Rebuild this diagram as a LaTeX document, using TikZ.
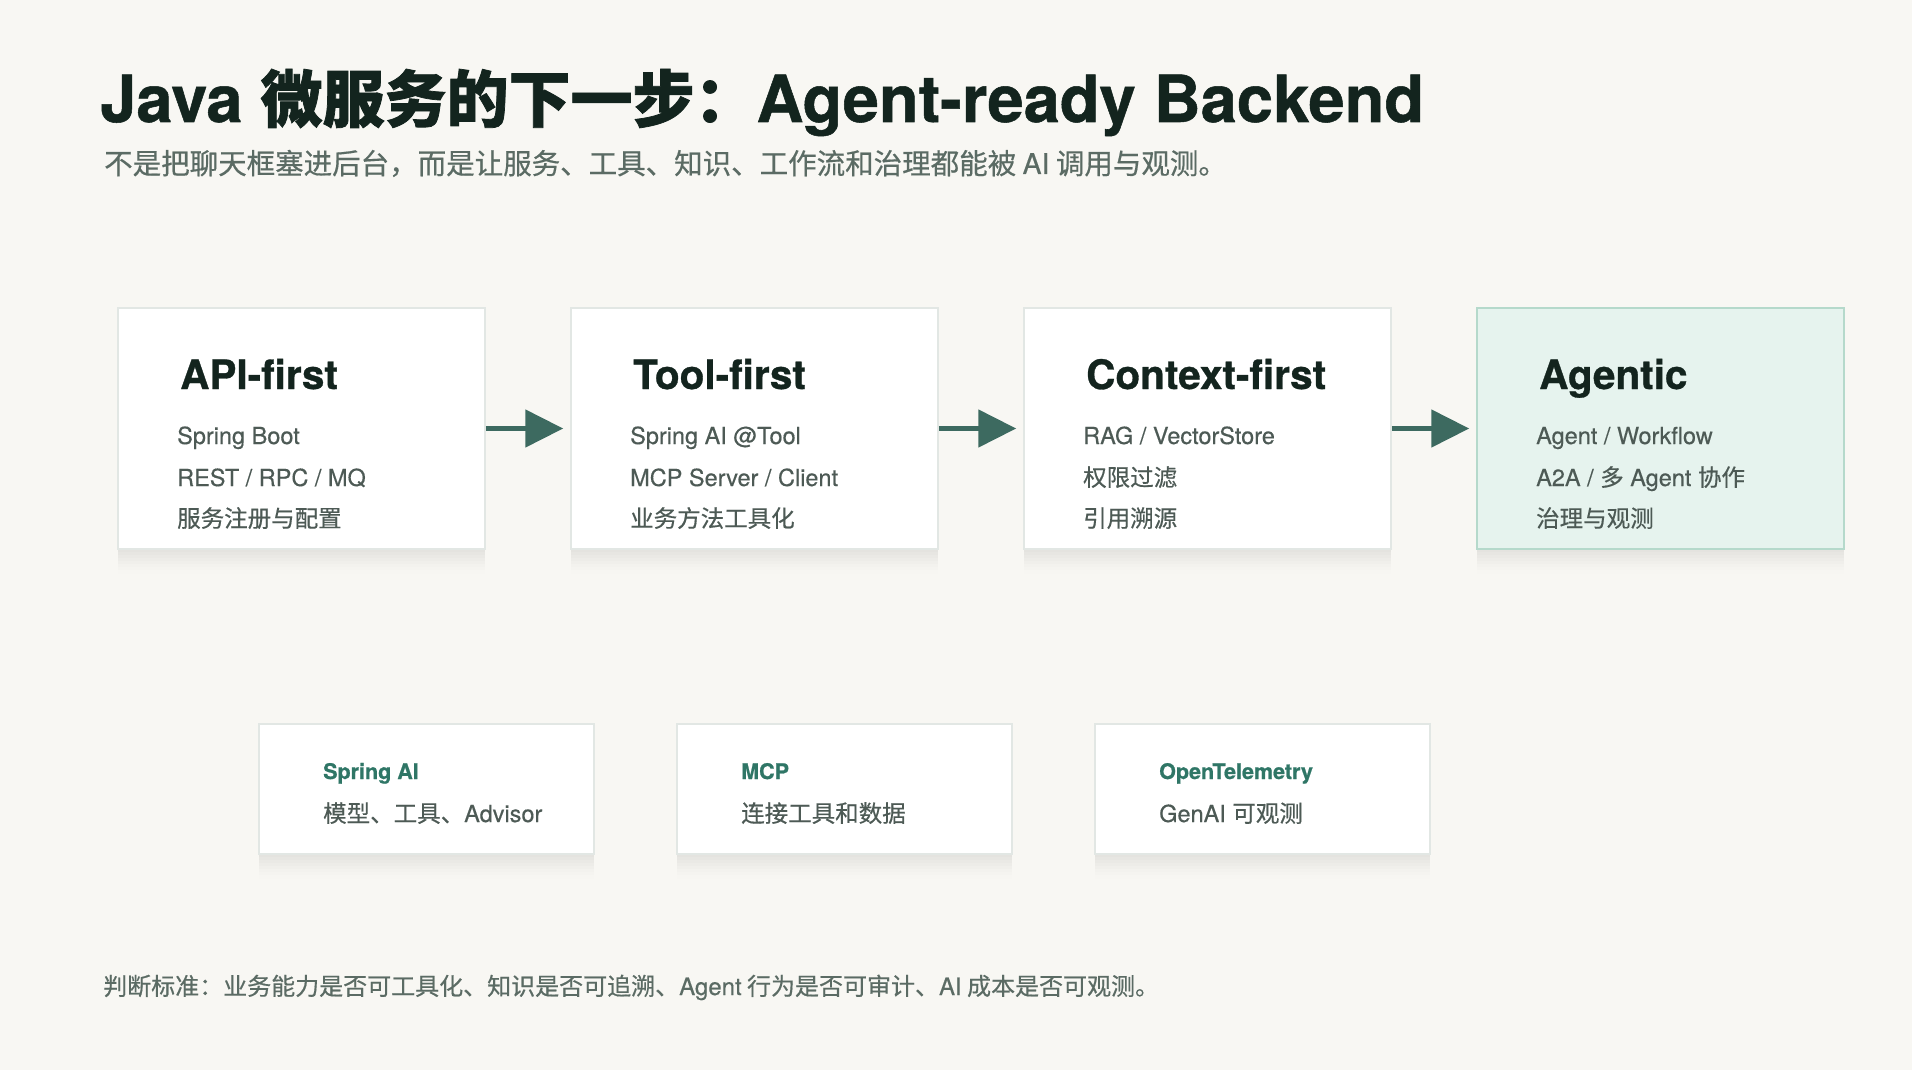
\documentclass[tikz,border=0pt]{standalone}
\usepackage{fontspec}
\setmainfont{TeX Gyre Heros}[UprightFeatures={FakeBold=0.35}, BoldFeatures={FakeBold=0.8}]
\newfontfamily\zh[FakeBold=0.5]{Noto Sans CJK SC}
\newfontfamily\zhheavy[FakeBold=1.2]{Noto Sans CJK SC}
\usepackage{xcolor}
\usetikzlibrary{arrows.meta}
\definecolor{paper}{HTML}{F8F7F3}
\definecolor{ink}{HTML}{13241E}
\definecolor{muted}{HTML}{5B6B64}
\definecolor{body}{HTML}{4D5A55}
\definecolor{teal}{HTML}{3D6A60}
\definecolor{tagcol}{HTML}{2F7666}
\definecolor{edge}{HTML}{E2E7E4}
\definecolor{mint}{HTML}{E6F3EE}
\definecolor{mintedge}{HTML}{B5D9CB}
\tikzset{lift/.style={
   preaction={fill=black, fill opacity=0.012, transform canvas={yshift=-3pt}},
   preaction={fill=black, fill opacity=0.012, transform canvas={yshift=-6pt}},
   preaction={fill=black, fill opacity=0.012, transform canvas={yshift=-9pt}},
   preaction={fill=black, fill opacity=0.011, transform canvas={yshift=-12pt}},
   preaction={fill=black, fill opacity=0.010, transform canvas={yshift=-15pt}},
   preaction={fill=black, fill opacity=0.009, transform canvas={yshift=-18pt}},
   preaction={fill=black, fill opacity=0.007, transform canvas={yshift=-21pt}},
   preaction={fill=black, fill opacity=0.005, transform canvas={yshift=-25pt}}},
 card/.style={lift, draw=edge, line width=1.5pt, minimum width=367pt, minimum height=241pt},
 whitecard/.style={fill=white},
 greencard/.style={fill=mint, draw=mintedge},
 smallcard/.style={lift, draw=edge, line width=1.5pt, fill=white, minimum width=335pt, minimum height=130pt},
 headline/.style={anchor=base west, inner sep=0pt, text=ink, font=\fontsize{65}{70}\selectfont\bfseries},
 lede/.style={anchor=base west, inner sep=0pt, text=muted, font=\fontsize{28.5}{32}\selectfont},
 cardhead/.style={anchor=base west, inner sep=0pt, text=ink, font=\fontsize{40.5}{44}\selectfont\bfseries},
 itemtext/.style={anchor=base west, inner sep=0pt, text=body, font=\fontsize{23.5}{28}\selectfont},
 tag/.style={anchor=base west, inner sep=0pt, text=tagcol, font=\fontsize{21.5}{26}\selectfont\bfseries},
 note/.style={anchor=base west, inner sep=0pt, text=muted, font=\fontsize{24}{28}\selectfont},
 flow/.style={draw=teal, line width=5pt, -{Triangle[length=38pt,width=37pt]}, shorten >=7pt},
 }

\begin{document}
\begin{tikzpicture}[x=1pt,y=-1pt]
    \fill[paper] (0,0) rectangle (1912,1070);
    \useasboundingbox (0,0) rectangle (1912,1070);

    \node[headline] (title) at (100,122) {Java {\zhheavy\fontsize{62}{70}\selectfont 微服务的下一步：}Agent-ready Backend};
    \node[lede] (sub) at (104,174) {\zh 不是把聊天框塞进后台，而是让服务、工具、知识、工作流和治理都能被 {\rmfamily AI} 调用与观测。};

    \foreach \n/\s/\t/\a/\b/\c [count=\i] in {
        api/whitecard/API-first/Spring Boot/{REST / RPC / MQ}/{\zh 服务注册与配置},
        tool/whitecard/Tool-first/{Spring AI @Tool}/{MCP Server / Client}/{\zh 业务方法工具化},
        ctx/whitecard/Context-first/{RAG / VectorStore}/{\zh 权限过滤}/{\zh 引用溯源},
        agent/greencard/Agentic/{Agent / Workflow}/{A2A / {\zh 多} Agent {\zh 协作}}/{\zh 治理与观测}} {
        \node[card, \s] (\n) at (\i*453-151.5, 428.5) {};
        \node[cardhead] (\n-t) at (\i*453-273, 389) {\t};
        \node[itemtext] (\n-a) at (\i*453-276, 444) {\a};
        \node[itemtext] (\n-b) at (\i*453-276, 486) {\b};
        \node[itemtext] (\n-c) at (\i*453-276, 527) {\c};
    }

    \draw[flow] (api) -- (tool);
    \draw[flow] (tool) -- (ctx);
    \draw[flow] (ctx) -- (agent);

    \foreach \n/\t/\a [count=\i] in {spring/Spring AI/{{\zh 模型、工具、}Advisor},
        mcp/MCP/{\zh 连接工具和数据}, otel/OpenTelemetry/{GenAI {\zh 可观测}}} {
        \node[smallcard] (\n) at (\i*418+8.5, 789) {};
        \node[tag] (\n-t) at (\i*418-95, 779) {\t};
        \node[itemtext] (\n-a) at (\i*418-95, 822) {\a};
    }

    \node[note] (rule) at (103,995) {\zh 判断标准：业务能力是否可工具化、知识是否可追溯、{\rmfamily Agent} 行为是否可审计、{\rmfamily AI} 成本是否可观测。};
\end{tikzpicture}
\end{document}
